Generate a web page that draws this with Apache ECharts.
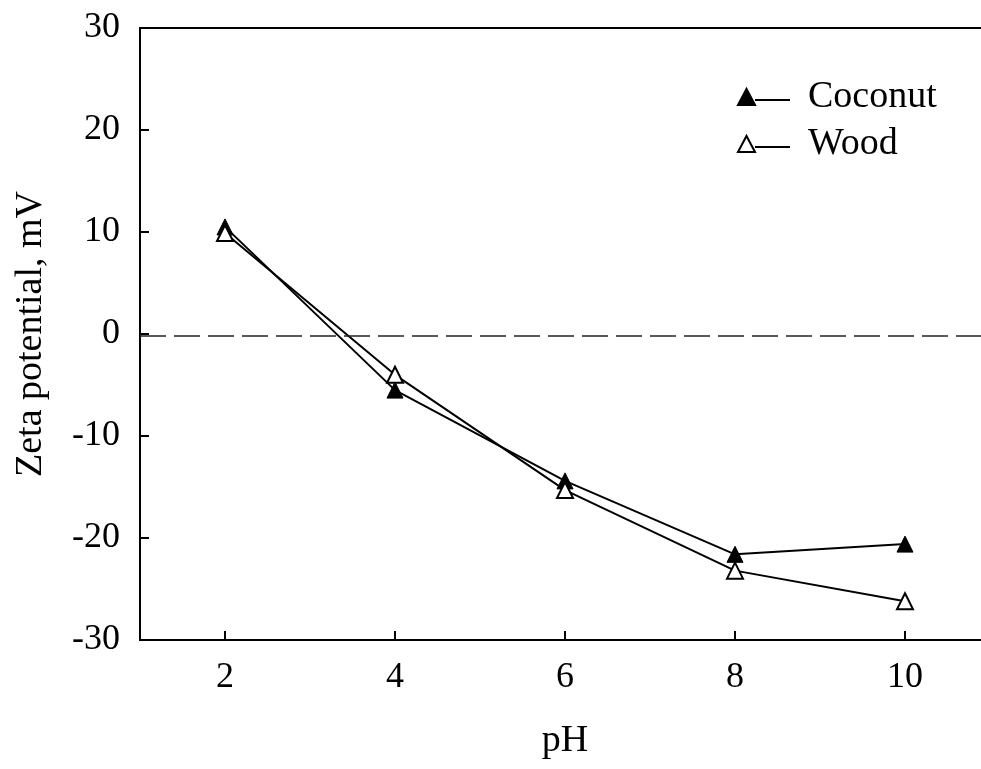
<!DOCTYPE html>
<html>
<head>
<meta charset="utf-8">
<script src="https://cdn.jsdelivr.net/npm/echarts@6/dist/echarts.min.js"></script>
<style>
  html, body { margin: 0; padding: 0; background: #fff; }
  #chart { width: 981px; height: 769px; }
</style>
</head>
<body>
<div id="chart"></div>
<script>
const phValues = [2, 4, 6, 8, 10];
const coconut = [10.5, -5.5, -14.4, -21.6, -20.6];
const wood = [9.9, -4.0, -15.3, -23.2, -26.2];
const zeroLine = -0.2;

const font = 'Liberation Serif, Times New Roman, serif';
const toPairs = (xs, ys) => xs.map((x, i) => [x, ys[i]]);

// legend icon: triangle on the left, line running to the right
const legendIcon = 'path://M0,16 L8.5,0 L17,16 Z M17,11 L52,11';

const chart = echarts.init(document.getElementById('chart'));
chart.setOption({
  animation: false,
  backgroundColor: '#fff',
  textStyle: { fontFamily: font, color: '#000' },
  grid: {
    left: 140, top: 28, width: 850, height: 612,
    outerBoundsMode: 'none',
    show: true, borderColor: '#000', borderWidth: 2
  },
  legend: {
    left: 732, top: 73,
    orient: 'vertical',
    itemWidth: 52, itemHeight: 16, itemGap: 9,
    textStyle: { fontFamily: font, fontSize: 38, color: '#000', padding: [0, 0, 0, 13] },
    data: [
      { name: 'Coconut', icon: legendIcon,
        itemStyle: { color: '#000', borderColor: '#000', borderWidth: 2 } },
      { name: 'Wood', icon: legendIcon,
        itemStyle: { color: '#fff', borderColor: '#000', borderWidth: 2 } }
    ]
  },
  xAxis: {
    type: 'value', min: 1, max: 11, interval: 1,
    name: 'pH', nameLocation: 'middle', nameGap: 82,
    nameTextStyle: { fontFamily: font, fontSize: 38, color: '#000' },
    axisLine: { onZero: false, lineStyle: { color: '#000', width: 2 } },
    axisTick: { inside: true, length: 9, lineStyle: { color: '#000', width: 2 },
      customValues: phValues },
    axisLabel: { fontFamily: font, fontSize: 36, color: '#000', margin: 20,
      customValues: phValues },
    splitLine: { show: false }
  },
  yAxis: {
    type: 'value', min: -30, max: 30, interval: 10,
    name: 'Zeta potential, mV', nameLocation: 'middle', nameGap: 90,
    nameTextStyle: { fontFamily: font, fontSize: 38, color: '#000' },
    axisLine: { onZero: false, lineStyle: { color: '#000', width: 2 } },
    axisTick: { inside: true, length: 9, lineStyle: { color: '#000', width: 2 } },
    axisLabel: { fontFamily: font, fontSize: 36, color: '#000', margin: 20 },
    splitLine: { show: false }
  },
  series: [
    {
      name: 'Coconut', type: 'line',
      data: toPairs(phValues, coconut),
      symbol: 'triangle', symbolSize: 16,
      lineStyle: { color: '#000', width: 2 },
      itemStyle: { color: '#000', borderColor: '#000', borderWidth: 1 },
      markLine: {
        silent: true, symbol: 'none', label: { show: false },
        lineStyle: { color: '#222', width: 1.5, type: [26, 8] },
        data: [{ yAxis: zeroLine }]
      },
      z: 3
    },
    {
      name: 'Wood', type: 'line',
      data: toPairs(phValues, wood),
      symbol: 'triangle', symbolSize: 16,
      lineStyle: { color: '#000', width: 2 },
      itemStyle: { color: '#fff', borderColor: '#000', borderWidth: 2 },
      z: 4
    }
  ]
});
</script>
</body>
</html>
